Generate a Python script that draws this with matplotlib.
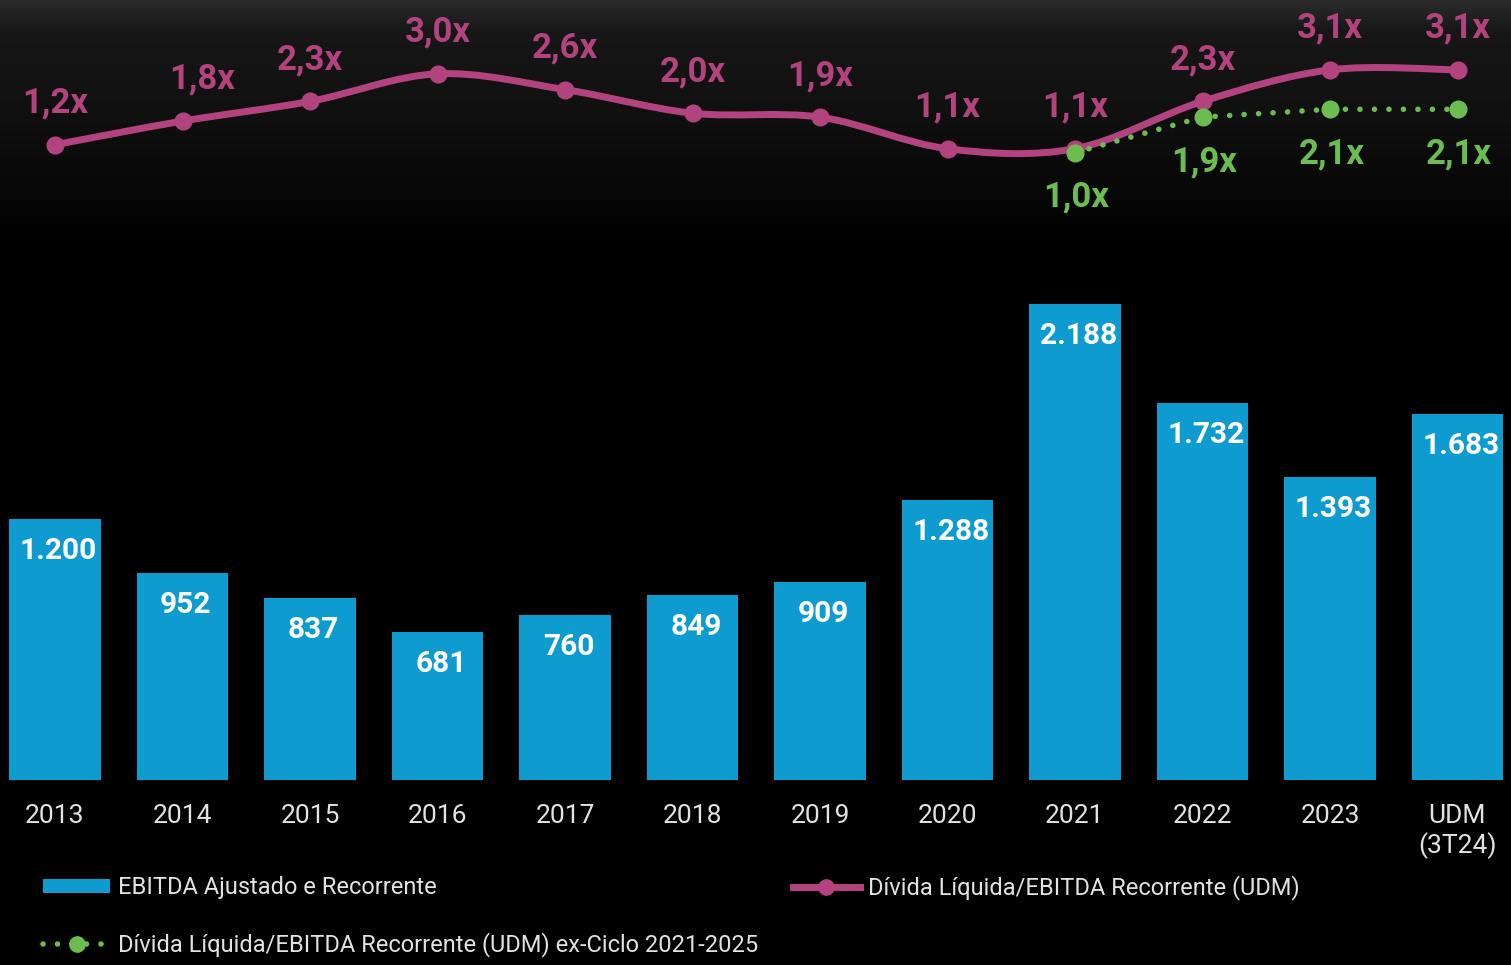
import numpy as np
import matplotlib.pyplot as plt
from matplotlib.path import Path
from matplotlib.patches import PathPatch, Patch
from matplotlib.lines import Line2D

plt.rcParams['font.family'] = ['Roboto', 'DejaVu Sans']

# data
categories = ['2013', '2014', '2015', '2016', '2017', '2018', '2019', '2020',
              '2021', '2022', '2023', 'UDM\n(3T24)']
ebitda = [1200, 952, 837, 681, 760, 849, 909, 1288, 2188, 1732, 1393, 1683]
leverage = [1.2, 1.8, 2.3, 3.0, 2.6, 2.0, 1.9, 1.1, 1.1, 2.3, 3.1, 3.1]
ex_cycle_idx = [8, 9, 10, 11]
ex_cycle = [1.0, 1.9, 2.1, 2.1]

BLUE = '#0e9bd0'
PINK = '#b3437e'
GREEN = '#6cbd4f'
TXT = '#e2e2e2'

W, H = 1511, 965
fig = plt.figure(figsize=(W / 100, H / 100), dpi=100, facecolor='black')

# background with a faint grey haze at the top
ax_bg = fig.add_axes([0, 0, 1, 1], zorder=-1)
rows = np.arange(H)
shade = np.interp(rows, [0, 30, 120, 250], [0.17, 0.09, 0.06, 0.0])
ax_bg.imshow(np.tile(shade[:, None], (1, 8)), cmap='gray', vmin=0, vmax=1,
             aspect='auto', extent=[0, W, H, 0])
ax_bg.set_xlim(0, W)
ax_bg.set_ylim(H, 0)
ax_bg.axis('off')

x = np.arange(len(categories))
step = 127.5
xlim = (-55 / step, (W - 55) / step)

# bars
ax = fig.add_axes([0, 185 / H, 1, 522 / H])
ax.set_facecolor('none')
ax.bar(x, ebitda, width=0.714, color=BLUE)
ax.set_xlim(*xlim)
ax.set_ylim(0, 2400)
for s in ax.spines.values():
    s.set_visible(False)
ax.set_yticks([])
ax.set_xticks(x, categories, color=TXT, fontsize=19, linespacing=1.2)
ax.tick_params(axis='x', length=0, pad=17)
for i, v in enumerate(ebitda):
    ax.annotate(f'{v:,}'.replace(',', '.'), (i, v), xytext=(2.5, -23),
                textcoords='offset points', ha='center', va='center',
                color='white', fontsize=21.5, fontweight='bold')

# leverage lines
ax2 = fig.add_axes([0, 735 / H, 1, 230 / H])
ax2.set_facecolor('none')
ax2.set_xlim(*xlim)
ax2.set_ylim(-0.964, 4.873)
ax2.axis('off')

# smooth curve through the points (Catmull-Rom as cubic Bezier)
pts = np.column_stack([x, leverage]).astype(float)
verts = [pts[0]]
codes = [Path.MOVETO]
n = len(pts)
for i in range(n - 1):
    p0 = pts[max(i - 1, 0)]
    p1 = pts[i]
    p2 = pts[i + 1]
    p3 = pts[min(i + 2, n - 1)]
    verts += [p1 + (p2 - p0) / 6, p2 - (p3 - p1) / 6, p2]
    codes += [Path.CURVE4] * 3
ax2.add_patch(PathPatch(Path(verts, codes), fill=False, edgecolor=PINK,
                        lw=5, capstyle='round', zorder=2))
ax2.plot(x, leverage, 'o', color=PINK, ms=12, zorder=3)

ax2.plot(ex_cycle_idx, ex_cycle, color=GREEN, lw=4, linestyle=(0, (0.01, 2.6)),
         dash_capstyle='round', zorder=4)
ax2.plot(ex_cycle_idx, ex_cycle, 'o', color=GREEN, ms=12, zorder=5)

for i, v in enumerate(leverage):
    dx = 14 if i == 1 else 0
    ax2.annotate(f'{v:.1f}x'.replace('.', ','), (i, v), xytext=(dx, 30),
                 textcoords='offset points', ha='center', va='center',
                 color=PINK, fontsize=25, fontweight='bold')
for i, v in zip(ex_cycle_idx, ex_cycle):
    ax2.annotate(f'{v:.1f}x'.replace('.', ','), (i, v), xytext=(1, -32),
                 textcoords='offset points', ha='center', va='center',
                 color=GREEN, fontsize=25, fontweight='bold')

# legend
handles = [
    Patch(facecolor=BLUE, edgecolor='none'),
    Line2D([], [], color=GREEN, lw=4, linestyle=(0, (0.01, 2.6)),
           dash_capstyle='round', marker='o', ms=11),
    Line2D([], [], color=PINK, lw=5, marker='o', ms=11),
]
labels = ['EBITDA Ajustado e Recorrente',
          'Dívida Líquida/EBITDA Recorrente (UDM) ex-Ciclo 2021-2025',
          'Dívida Líquida/EBITDA Recorrente (UDM)']
leg = fig.legend(handles, labels, ncol=2, loc='upper left',
                 bbox_to_anchor=(43 / W, 1 - 875 / H), frameon=False,
                 borderpad=0, borderaxespad=0, fontsize=17,
                 handlelength=2.85, handleheight=0.52, handletextpad=0.34,
                 labelspacing=1.39, columnspacing=1.44, labelcolor=TXT)

fig.savefig('out.png', dpi=100, facecolor='black')
